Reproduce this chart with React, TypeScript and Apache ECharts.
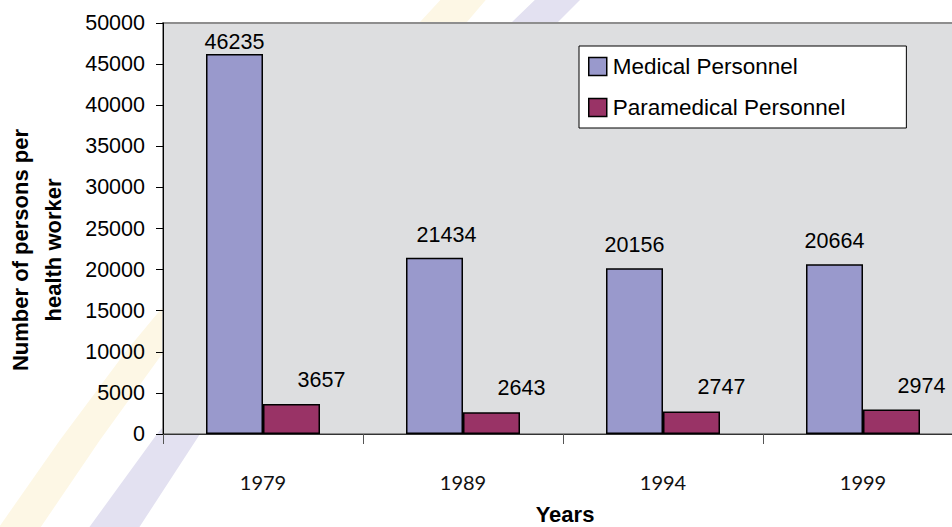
import React, { useEffect, useRef } from "react";
import * as echarts from "echarts";

const years = ["1979", "1989", "1994", "1999"];
const medical = [46235, 21434, 20156, 20664];
const paramedical = [3657, 2643, 2747, 2974];
const seriesNames = ["Medical Personnel", "Paramedical Personnel"];
const yTitle = "Number of persons per\nhealth worker";
const xTitle = "Years";

const ARIAL = "'Liberation Sans', Arial, sans-serif";

export default function App() {
  const ref = useRef<HTMLDivElement>(null);
  useEffect(() => {
    document.body.style.margin = "0";
    document.body.style.overflow = "hidden";
    document.documentElement.style.overflow = "hidden";
    const chart = echarts.init(ref.current!, undefined, { renderer: "svg" });
    const option: any = {
      animation: false,
      backgroundColor: "#ffffff",
      graphic: [
        {
          type: "polygon",
          z: -10,
          silent: true,
          shape: {
            points: [
              [-10, 540], [60, 440], [127, 350], [260, 190], [420, 22], [445, -5],
              [490, -5], [467, 22], [300, 190], [165, 350], [100, 440], [32, 540],
            ],
          },
          style: { fill: "#FDF7E5" },
        },
        {
          type: "polygon",
          z: -10,
          silent: true,
          shape: {
            points: [
              [80, 540], [157, 434], [330, 230], [512, 22], [540, -5],
              [585, -5], [558, 22], [375, 230], [200, 434], [131, 540],
            ],
          },
          style: { fill: "#E3E1F1" },
        },
        {
          type: "text",
          x: 37,
          y: 250,
          rotation: Math.PI / 2,
          style: {
            text: yTitle,
            font: `bold 22px ${ARIAL}`,
            fill: "#000",
            align: "center",
            verticalAlign: "middle",
            lineHeight: 33,
          },
        },
        {
          type: "text",
          x: 565,
          y: 514,
          style: {
            text: xTitle,
            font: `bold 22px ${ARIAL}`,
            fill: "#000",
            align: "center",
            verticalAlign: "middle",
          },
        },
      ],
      grid: {
        left: 163,
        top: 23,
        width: 800,
        height: 411,
        show: true,
        backgroundColor: "#DDDEE0",
        borderColor: "#8E8E8E",
        borderWidth: 2,
      },
      legend: {
        orient: "vertical",
        left: 579,
        top: 46,
        padding: [9, 61, 9, 9],
        backgroundColor: "#ffffff",
        borderColor: "#000",
        borderWidth: 1,
        itemWidth: 18,
        itemHeight: 18,
        itemGap: 18,
        icon: "rect",
        data: seriesNames,
        itemStyle: { borderColor: "#000", borderWidth: 1.5 },
        textStyle: { fontFamily: ARIAL, fontSize: 22.5, color: "#000", padding: [0, 0, 0, 1] },
      },
      xAxis: {
        type: "category",
        data: years,
        axisLine: { show: true, lineStyle: { color: "#333", width: 1 } },
        axisTick: { show: true, length: 10, lineStyle: { color: "#555" } },
        axisLabel: {
          fontFamily: "Lato, 'Open Sans', sans-serif",
          fontSize: 20,
          color: "#111",
          margin: 38,
        },
        splitLine: { show: false },
      },
      yAxis: {
        type: "value",
        min: 0,
        max: 50000,
        interval: 5000,
        axisLine: { show: true, lineStyle: { color: "#000", width: 1 } },
        axisTick: { show: true, length: 7, lineStyle: { color: "#000" } },
        axisLabel: {
          fontFamily: ARIAL,
          fontSize: 21.5,
          color: "#000",
          margin: 18,
          formatter: (v: number) => String(v),
        },
        splitLine: { show: false },
      },
      series: [
        {
          name: seriesNames[0],
          type: "bar",
          barWidth: 57,
          barGap: "0%",
          data: medical.map((v, i) => ({
            value: v,
            label:
              i === 0
                ? { distance: 1 }
                : i === 1
                ? { offset: [12, 0] }
                : {},
          })),
          itemStyle: { color: "#9999CC", borderColor: "#000", borderWidth: 1.5 },
          label: {
            show: true,
            position: "top",
            distance: 12,
            fontFamily: ARIAL,
            fontSize: 21.5,
            color: "#000",
          },
        },
        {
          name: seriesNames[1],
          type: "bar",
          barWidth: 57,
          barGap: "0%",
          data: paramedical,
          itemStyle: { color: "#993366", borderColor: "#000", borderWidth: 1.5 },
          label: {
            show: true,
            position: "top",
            distance: 13,
            offset: [30, 0],
            fontFamily: ARIAL,
            fontSize: 21.5,
            color: "#000",
          },
        },
      ],
    };
    chart.setOption(option);
    return () => chart.dispose();
  }, []);
  return <div ref={ref} style={{ width: 990, height: 527 }} />;
}
